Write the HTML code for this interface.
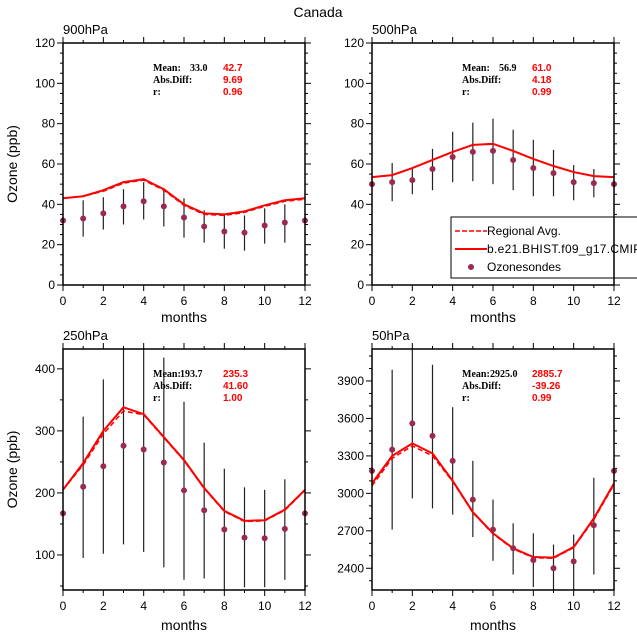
<!DOCTYPE html>
<html><head><meta charset="utf-8"><style>
body{margin:0;background:#fff;}
</style></head><body>
<svg id="c" width="637" height="639" xmlns="http://www.w3.org/2000/svg" font-family="Liberation Sans, sans-serif">
<text x="318" y="17" text-anchor="middle" font-size="14">Canada</text>
</svg>
<script>
const months=[0,1,2,3,4,5,6,7,8,9,10,11,12];
const p900Model=[43,44,47,51,52.5,47.5,40,35.5,35,36.5,39.5,42,43];
const p900Reg=[43,44,46.5,50.5,52,47,39.5,35,34.5,36,39,41.5,42.5];
const p900Obs=[32,33,35.5,39,41.5,39,33.5,29,26.5,26,29.5,31,32];
const p900Lo=[null,24,27.5,30,32.5,29,23.5,21,18,17,20.5,21,null];
const p900Hi=[null,42,43.5,47.5,51,48,43,37,35,34.5,38,40,null];
const p500Model=[53.5,54.5,58,62,66,69.5,70,66.5,62.5,59,56,54,53.5];
const p500Reg=[53.5,54.5,58,62,66,69.5,70,66.5,62.5,59,56,54,53.5];
const p500Obs=[50,51,52,57.5,63.5,66,66.5,62,58,55.5,51,50.5,50];
const p500Lo=[null,41.5,45,47,51,51.5,50,47,44,44,42,43.5,null];
const p500Hi=[null,60.5,58,67.5,76,80.5,82.5,77,72,67,59.5,57.5,null];
const p250Model=[205,248,300,338,327,290,253,208,171,155,156,173,205];
const p250Reg=[205,245,295,332,326,289,252,207,170,154,155,172,204];
const p250Obs=[167,210,243,276,270,249,204,172,141,128,127,142,167];
const p250Lo=[null,95,102,117,105,80,60,62,43,48,48,60,null];
const p250Hi=[null,323,383,440,440,418,347,281,239,209,205,222,null];
const p50Model=[3080,3300,3400,3320,3100,2850,2680,2560,2490,2485,2570,2800,3080];
const p50Reg=[3060,3280,3380,3300,3095,2845,2675,2555,2485,2480,2565,2790,3070];
const p50Obs=[3180,3350,3560,3460,3260,2950,2710,2560,2465,2400,2455,2745,3180];
const p50Lo=[null,2710,2960,2880,2830,2650,2460,2350,2250,2200,2200,2350,null];
const p50Hi=[null,3990,4200,4030,3690,3260,2950,2760,2680,2590,2670,3125,null];
const yTicks900=[0,20,40,60,80,100,120];
const yTicks250=[100,200,300,400];
const yTicks50=[2400,2700,3000,3300,3600,3900];
const xTicks=[0,2,4,6,8,10,12];

const NS="http://www.w3.org/2000/svg";
const svg=document.getElementById('c');
function mk(tag,attrs,parent){const e=document.createElementNS(NS,tag);for(const k in attrs)e.setAttribute(k,attrs[k]);(parent||svg).appendChild(e);return e;}

const panels=[
 {key:'900hpa',label:'900hPa',L:63,R:305,T:43,B:285,ymin:0,ymax:120,yt:yTicks900,minor:5,model:p900Model,reg:p900Reg,obs:p900Obs,lo:p900Lo,hi:p900Hi,stats:['33.0','42.7','9.69','0.96'],ylab:true,xlabY:322,valX:190},
 {key:'500hpa',label:'500hPa',L:372,R:614,T:43,B:285,ymin:0,ymax:120,yt:yTicks900,minor:5,model:p500Model,reg:p500Reg,obs:p500Obs,lo:p500Lo,hi:p500Hi,stats:['56.9','61.0','4.18','0.99'],ylab:false,xlabY:322,valX:499,legend:true},
 {key:'250hpa',label:'250hPa',L:63,R:305,T:349,B:590,ymin:43.5,ymax:432,yt:yTicks250,minor:50,model:p250Model,reg:p250Reg,obs:p250Obs,lo:p250Lo,hi:p250Hi,stats:['193.7','235.3','41.60','1.00'],ylab:true,xlabY:630,valX:180},
 {key:'50hpa',label:'50hPa',L:372,R:614,T:349,B:590,ymin:2226,ymax:4156,yt:yTicks50,minor:100,model:p50Model,reg:p50Reg,obs:p50Obs,lo:p50Lo,hi:p50Hi,stats:['2925.0','2885.7','-39.26','0.99'],ylab:false,xlabY:630,valX:490}
];

panels.forEach(p=>{
 const g=mk('g',{});
 
 
 const cid='clip-'+p.key;
 const cp=mk('clipPath',{id:cid},g);mk('rect',{x:p.L,y:p.T,width:p.R-p.L,height:p.B-p.T},cp);
 const xs=v=>p.L+(v-0)/12*(p.R-p.L);
 const ys=v=>p.B-(v-p.ymin)/(p.ymax-p.ymin)*(p.B-p.T);
 for(let m=0;m<=12;m++){
  const len=(m%2===0)?6:3;const x=xs(m);
  const t1=mk('line',{x1:x,x2:x,y1:p.B,y2:p.B+len,stroke:'#000','stroke-width':1},g);
  
  mk('line',{x1:x,x2:x,y1:p.T,y2:p.T-len,stroke:'#000','stroke-width':1},g);
 }
 const start=Math.ceil(p.ymin/p.minor)*p.minor;
 for(let v=start;v<=p.ymax+1e-6;v+=p.minor){
  const major=p.yt.includes(v);const len=major?6:3;const y=ys(v);
  mk('line',{x1:p.L-len,x2:p.L,y1:y,y2:y,stroke:'#000','stroke-width':1},g);
  mk('line',{x1:p.R,x2:p.R+len,y1:y,y2:y,stroke:'#000','stroke-width':1},g);
 }
 xTicks.forEach(v=>{const t=mk('text',{x:xs(v),y:p.B+20,'text-anchor':'middle','font-size':12},g);t.textContent=v;
  });
 p.yt.forEach(v=>{const t=mk('text',{x:p.L-8,y:ys(v)+4,'text-anchor':'end','font-size':12},g);t.textContent=v;
  });
 const xl=mk('text',{x:(p.L+p.R)/2,y:p.xlabY,'text-anchor':'middle','font-size':14},g);xl.textContent='months';
 
 if(p.ylab){const yl=mk('text',{x:0,y:0,'text-anchor':'middle','font-size':14,transform:`translate(17,${(p.T+p.B)/2}) rotate(-90)`},g);yl.textContent='Ozone (ppb)';
  }
 const pl=mk('text',{x:p.L,y:p.T-9,'font-size':13},g);pl.textContent=p.label;
 
 const data=mk('g',{'clip-path':`url(#${cid})`},g);
 months.forEach((m,i)=>{if(p.lo[i]==null)return;
  const e=mk('line',{x1:xs(m),x2:xs(m),y1:ys(p.lo[i]),y2:ys(p.hi[i]),stroke:'#222','stroke-width':1.2},data);
  });
 const rl=mk('polyline',{points:months.map((m,i)=>xs(m)+','+ys(p.reg[i])).join(' '),fill:'none',stroke:'#f00','stroke-width':1.5,'stroke-dasharray':'5,3'},data);
 
 const ml=mk('polyline',{points:months.map((m,i)=>xs(m)+','+ys(p.model[i])).join(' '),fill:'none',stroke:'#f00','stroke-width':2},data);
 
 months.forEach((m,i)=>{const c=mk('circle',{cx:xs(m),cy:ys(p.obs[i]),r:3,fill:'#9b2a4f'},g);
  });
 const fr=mk('rect',{x:p.L,y:p.T,width:p.R-p.L,height:p.B-p.T,fill:'none',stroke:'#000','stroke-width':1.5},g);
 
 const sx=p.L+90, sy=p.T+28;
 const labs=['Mean:','Abs.Diff:','r:'];
 labs.forEach((l,i)=>{const t=mk('text',{x:sx,y:sy+i*12,'font-size':10,'font-weight':'bold','font-family':'Liberation Serif, serif'},g);t.textContent=l;
  });
 const ob=mk('text',{x:p.valX,y:sy,'font-size':10,'font-weight':'bold','font-family':'Liberation Serif, serif'},g);ob.textContent=p.stats[0];
 
 [p.stats[1],p.stats[2],p.stats[3]].forEach((v,i)=>{const t=mk('text',{x:p.L+160,y:sy+i*12,'font-size':10,'font-weight':'bold',fill:'#f00'},g);t.textContent=v;
  });
 if(p.legend){
  const lg=mk('g',{},g);
  mk('rect',{x:451,y:217,width:200,height:61,fill:'#fff',stroke:'#000','stroke-width':1},lg);
  mk('line',{x1:614,x2:614,y1:217,y2:278,stroke:'#000','stroke-width':1.5},lg);
  const e1=mk('line',{x1:455,x2:487,y1:231,y2:231,stroke:'#f00','stroke-width':1.5,'stroke-dasharray':'5,2'},lg);
  
  const t1=mk('text',{x:487,y:235,'font-size':12},lg);t1.textContent='Regional Avg.';
  const e2=mk('line',{x1:455,x2:487,y1:249,y2:249,stroke:'#f00','stroke-width':2},lg);
  
  const t2=mk('text',{x:487,y:253,'font-size':12,'letter-spacing':'0.3'},lg);t2.textContent='b.e21.BHIST.f09_g17.CMIP6';
  const c3=mk('circle',{cx:471,cy:267,r:3,fill:'#9b2a4f'},lg);
  
  const t3=mk('text',{x:487,y:271,'font-size':12},lg);t3.textContent='Ozonesondes';
 }
});
</script>
</body></html>
